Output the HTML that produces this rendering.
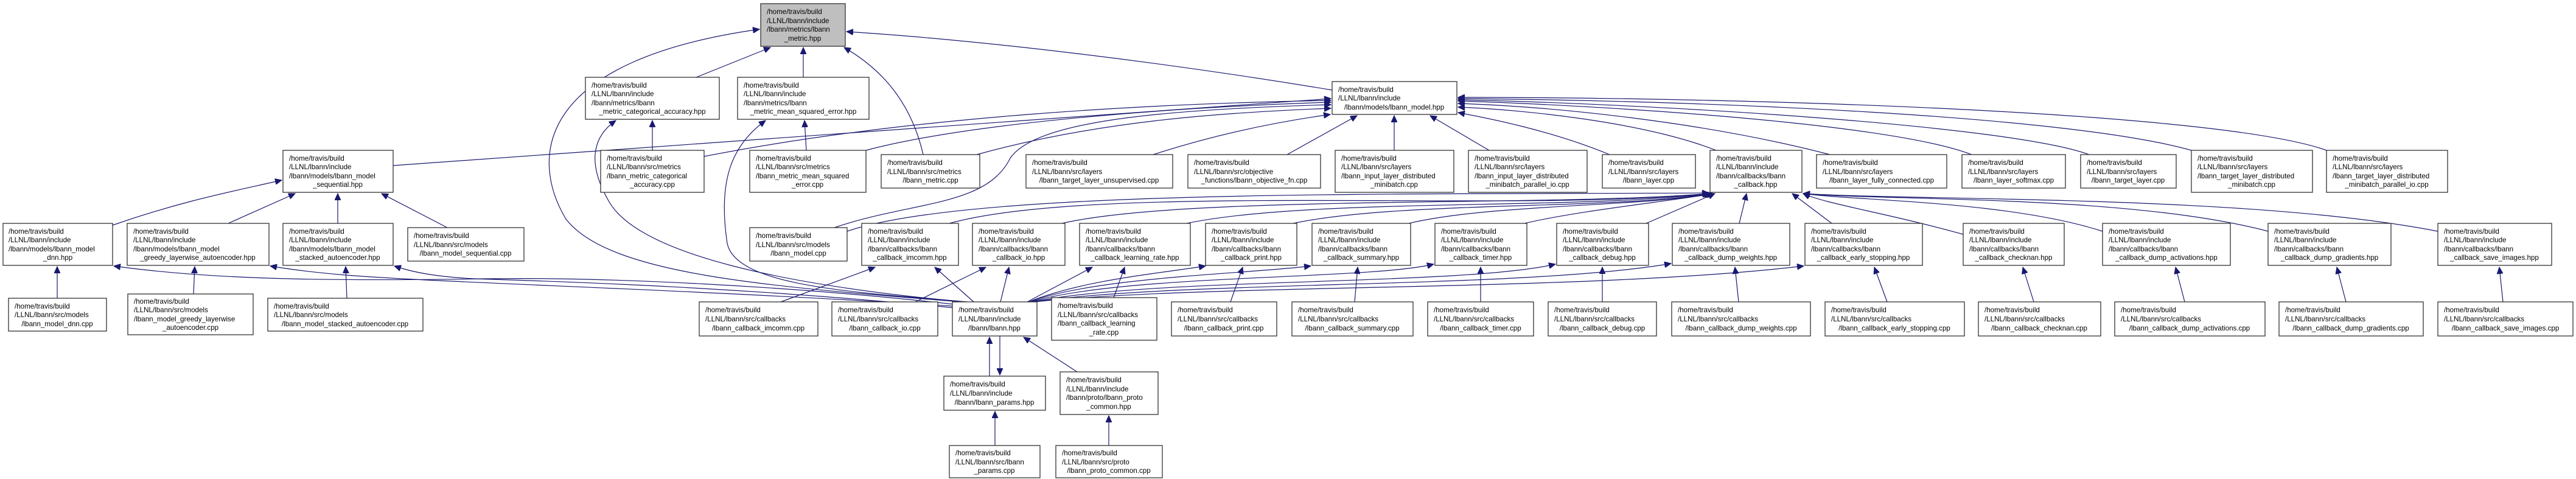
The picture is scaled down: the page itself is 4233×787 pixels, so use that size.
<!DOCTYPE html>
<html><head><meta charset="utf-8"><style>
html,body{margin:0;padding:0;background:#fff;}
svg{display:block;}
text{font-family:"Liberation Sans",sans-serif;font-size:11.6px;fill:#000;}
.c{text-anchor:middle;}
rect{fill:#fff;stroke:#333;stroke-width:1.3;}
path{fill:none;stroke:#191970;stroke-width:1.2;marker-end:url(#a);}
</style></head><body>
<svg width="4233" height="787" viewBox="0 0 4233 787" xmlns="http://www.w3.org/2000/svg">
<defs><marker id="a" markerUnits="userSpaceOnUse" markerWidth="12" markerHeight="10" refX="11" refY="5" orient="auto"><path d="M0,0 L11,5 L0,10 Z" style="fill:#191970;stroke:#191970;stroke-width:1;marker-end:none"/></marker></defs>

<!-- edges -->
<path d="M1144,127 L1266,78"/>
<path d="M1320,127 L1320,78"/>
<path d="M1517,254 C1500,180 1460,120 1387,78"/>
<path d="M2189,148 C1900,100 1600,65 1391,52"/>
<path d="M1580,496 C1250,470 1000,450 930,360 C870,260 880,100 1248,48"/>
<path d="M1585,496 C1300,470 1050,420 1000,330 C960,260 980,220 1012,198"/>
<path d="M1590,496 C1400,480 1210,470 1195,400 C1180,300 1200,240 1258,198"/>
<path d="M1072,247 L1072,198"/>
<path d="M1325,247 L1322,198"/>
<path d="M646,272 L2187,162"/>
<path d="M1157,257 C1500,190 1900,170 2187,165"/>
<path d="M1423,247 C1600,200 1950,175 2187,168"/>
<path d="M1371,374 C1500,330 1620,340 1660,260 C1700,200 1900,180 2187,172"/>
<path d="M1392,380 C1600,310 2300,320 2808,317"/>
<path d="M1605,254 C1800,200 2000,185 2187,178"/>
<path d="M1895,254 C2000,220 2100,200 2186,188"/>
<path d="M2115,254 L2230,190"/>
<path d="M2291,247 L2291,190"/>
<path d="M2447,247 L2350,190"/>
<path d="M2645,254 C2550,215 2450,195 2396,185"/>
<path d="M2820,247 C2700,200 2500,180 2396,176"/>
<path d="M3007,254 C2800,200 2550,175 2396,170"/>
<path d="M3240,254 C3100,200 2600,172 2396,166"/>
<path d="M3433,254 C3300,205 2700,170 2396,164"/>
<path d="M3601,247 C3400,190 2800,165 2396,162"/>
<path d="M3823,247 C3650,185 2900,160 2396,160"/>
<path d="M185,370 C300,330 380,315 463,296"/>
<path d="M375,367 L485,318"/>
<path d="M555,367 L555,318"/>
<path d="M735,374 L627,318"/>
<path d="M94,490 L94,438"/>
<path d="M318,483 L320,438"/>
<path d="M570,490 L568,438"/>
<path d="M1568,500 C1300,470 1000,455 800,458 C550,462 350,460 187,437"/>
<path d="M1568,503 C1200,480 900,470 700,460 C600,455 520,450 444,437"/>
<path d="M1570,506 C1200,470 900,462 780,458 C720,455 680,448 648,437"/>
<path d="M1283,496 L1438,439"/>
<path d="M1600,496 L1536,439"/>
<path d="M1504,496 L1620,439"/>
<path d="M1644,496 L1658,439"/>
<path d="M1688,496 L1795,439"/>
<path d="M1830,489 L1848,439"/>
<path d="M1690,496 C1780,460 1900,450 1981,437"/>
<path d="M2022,496 L2042,439"/>
<path d="M1692,496 C1800,455 2050,450 2154,437"/>
<path d="M2226,496 L2231,439"/>
<path d="M1694,496 C1850,450 2250,460 2356,434"/>
<path d="M2433,496 L2433,439"/>
<path d="M1696,496 C1900,455 2400,470 2556,434"/>
<path d="M2633,496 L2633,439"/>
<path d="M1698,496 C1950,460 2500,475 2746,433"/>
<path d="M2857,496 L2851,439"/>
<path d="M1700,496 C2000,465 2600,480 2964,437"/>
<path d="M3101,496 L3080,439"/>
<path d="M3342,496 L3324,439"/>
<path d="M3590,496 L3575,439"/>
<path d="M3855,496 L3840,439"/>
<path d="M4113,496 L4107,439"/>
<path d="M1560,367 C1800,300 2500,350 2808,318"/>
<path d="M1745,367 C1950,320 2550,340 2808,318"/>
<path d="M1950,367 C2150,325 2600,345 2810,318"/>
<path d="M2125,367 C2300,330 2650,345 2812,318"/>
<path d="M2315,367 C2450,335 2700,340 2814,318"/>
<path d="M2505,367 C2600,345 2750,330 2816,318"/>
<path d="M2705,367 L2818,318"/>
<path d="M2858,367 L2870,318"/>
<path d="M3010,367 L2945,318"/>
<path d="M3226,385 C3100,350 3000,335 2963,318"/>
<path d="M3455,380 C3300,330 3050,330 2963,318"/>
<path d="M3727,380 C3500,320 3100,330 2963,318"/>
<path d="M4006,380 C3700,320 3150,330 2963,318"/>
<path d="M1626,618 L1626,554"/>
<path d="M1643,552 L1643,616"/>
<path d="M1770,611 L1682,554"/>
<path d="M1635,732 L1635,676"/>
<path d="M1822,732 L1822,683"/>

<!-- nodes -->
<g><rect x="1250" y="6" width="139" height="70" style="fill:#bfbfbf"/><text x="1260" y="23">/home/travis/build</text><text x="1260" y="38">/LLNL/lbann/include</text><text x="1260" y="52">/lbann/metrics/lbann</text><text class="c" x="1319" y="67">_metric.hpp</text></g>

<g><rect x="962" y="127" width="220" height="69"/><text x="972" y="144">/home/travis/build</text><text x="972" y="158">/LLNL/lbann/include</text><text x="972" y="173">/lbann/metrics/lbann</text><text class="c" x="1072" y="187">_metric_categorical_accuracy.hpp</text></g>
<g><rect x="1212" y="127" width="216" height="69"/><text x="1222" y="144">/home/travis/build</text><text x="1222" y="158">/LLNL/lbann/include</text><text x="1222" y="173">/lbann/metrics/lbann</text><text class="c" x="1320" y="187">_metric_mean_squared_error.hpp</text></g>
<g><rect x="2189" y="134" width="205" height="54"/><text x="2199" y="151">/home/travis/build</text><text x="2199" y="165">/LLNL/lbann/include</text><text class="c" x="2291" y="180">/lbann/models/lbann_model.hpp</text></g>

<g><rect x="465" y="247" width="181" height="69"/><text x="475" y="264">/home/travis/build</text><text x="475" y="278">/LLNL/lbann/include</text><text x="475" y="293">/lbann/models/lbann_model</text><text class="c" x="555" y="307">_sequential.hpp</text></g>
<g><rect x="987" y="247" width="170" height="69"/><text x="997" y="264">/home/travis/build</text><text x="997" y="278">/LLNL/lbann/src/metrics</text><text x="997" y="293">/lbann_metric_categorical</text><text class="c" x="1072" y="307">_accuracy.cpp</text></g>
<g><rect x="1232" y="247" width="191" height="69"/><text x="1242" y="264">/home/travis/build</text><text x="1242" y="278">/LLNL/lbann/src/metrics</text><text x="1242" y="293">/lbann_metric_mean_squared</text><text class="c" x="1327" y="307">_error.cpp</text></g>
<g><rect x="1448" y="254" width="162" height="55"/><text x="1458" y="271">/home/travis/build</text><text x="1458" y="286">/LLNL/lbann/src/metrics</text><text class="c" x="1529" y="300">/lbann_metric.cpp</text></g>
<g><rect x="1686" y="254" width="241" height="55"/><text x="1696" y="271">/home/travis/build</text><text x="1696" y="286">/LLNL/lbann/src/layers</text><text class="c" x="1806" y="300">/lbann_target_layer_unsupervised.cpp</text></g>
<g><rect x="1952" y="254" width="218" height="55"/><text x="1962" y="271">/home/travis/build</text><text x="1962" y="286">/LLNL/lbann/src/objective</text><text class="c" x="2061" y="300">_functions/lbann_objective_fn.cpp</text></g>
<g><rect x="2194" y="247" width="195" height="69"/><text x="2204" y="264">/home/travis/build</text><text x="2204" y="278">/LLNL/lbann/src/layers</text><text x="2204" y="293">/lbann_input_layer_distributed</text><text class="c" x="2291" y="307">_minibatch.cpp</text></g>
<g><rect x="2413" y="247" width="195" height="69"/><text x="2423" y="264">/home/travis/build</text><text x="2423" y="278">/LLNL/lbann/src/layers</text><text x="2423" y="293">/lbann_input_layer_distributed</text><text class="c" x="2510" y="307">_minibatch_parallel_io.cpp</text></g>
<g><rect x="2633" y="254" width="153" height="55"/><text x="2643" y="271">/home/travis/build</text><text x="2643" y="286">/LLNL/lbann/src/layers</text><text class="c" x="2709" y="300">/lbann_layer.cpp</text></g>
<g><rect x="2810" y="247" width="151" height="69"/><text x="2820" y="264">/home/travis/build</text><text x="2820" y="278">/LLNL/lbann/include</text><text x="2820" y="293">/lbann/callbacks/lbann</text><text class="c" x="2885" y="307">_callback.hpp</text></g>
<g><rect x="2985" y="254" width="214" height="55"/><text x="2995" y="271">/home/travis/build</text><text x="2995" y="286">/LLNL/lbann/src/layers</text><text class="c" x="3092" y="300">/lbann_layer_fully_connected.cpp</text></g>
<g><rect x="3224" y="254" width="170" height="55"/><text x="3234" y="271">/home/travis/build</text><text x="3234" y="286">/LLNL/lbann/src/layers</text><text class="c" x="3309" y="300">/lbann_layer_softmax.cpp</text></g>
<g><rect x="3419" y="254" width="157" height="55"/><text x="3429" y="271">/home/travis/build</text><text x="3429" y="286">/LLNL/lbann/src/layers</text><text class="c" x="3497" y="300">/lbann_target_layer.cpp</text></g>
<g><rect x="3601" y="247" width="199" height="69"/><text x="3611" y="264">/home/travis/build</text><text x="3611" y="278">/LLNL/lbann/src/layers</text><text x="3611" y="293">/lbann_target_layer_distributed</text><text class="c" x="3700" y="307">_minibatch.cpp</text></g>
<g><rect x="3823" y="247" width="199" height="69"/><text x="3833" y="264">/home/travis/build</text><text x="3833" y="278">/LLNL/lbann/src/layers</text><text x="3833" y="293">/lbann_target_layer_distributed</text><text class="c" x="3922" y="307">_minibatch_parallel_io.cpp</text></g>

<g><rect x="5" y="367" width="180" height="69"/><text x="14" y="384">/home/travis/build</text><text x="14" y="398">/LLNL/lbann/include</text><text x="14" y="413">/lbann/models/lbann_model</text><text class="c" x="95" y="427">_dnn.hpp</text></g>
<g><rect x="209" y="367" width="233" height="69"/><text x="219" y="384">/home/travis/build</text><text x="219" y="398">/LLNL/lbann/include</text><text x="219" y="413">/lbann/models/lbann_model</text><text class="c" x="325" y="427">_greedy_layerwise_autoencoder.hpp</text></g>
<g><rect x="465" y="367" width="181" height="69"/><text x="475" y="384">/home/travis/build</text><text x="475" y="398">/LLNL/lbann/include</text><text x="475" y="413">/lbann/models/lbann_model</text><text class="c" x="555" y="427">_stacked_autoencoder.hpp</text></g>
<g><rect x="670" y="374" width="191" height="55"/><text x="680" y="391">/home/travis/build</text><text x="680" y="406">/LLNL/lbann/src/models</text><text class="c" x="765" y="420">/lbann_model_sequential.cpp</text></g>
<g><rect x="1232" y="374" width="160" height="55"/><text x="1242" y="391">/home/travis/build</text><text x="1242" y="406">/LLNL/lbann/src/models</text><text class="c" x="1312" y="420">/lbann_model.cpp</text></g>
<g><rect x="1416" y="367" width="159" height="69"/><text x="1426" y="384">/home/travis/build</text><text x="1426" y="398">/LLNL/lbann/include</text><text x="1426" y="413">/lbann/callbacks/lbann</text><text class="c" x="1495" y="427">_callback_imcomm.hpp</text></g>
<g><rect x="1598" y="367" width="152" height="69"/><text x="1608" y="384">/home/travis/build</text><text x="1608" y="398">/LLNL/lbann/include</text><text x="1608" y="413">/lbann/callbacks/lbann</text><text class="c" x="1674" y="427">_callback_io.hpp</text></g>
<g><rect x="1774" y="367" width="182" height="69"/><text x="1784" y="384">/home/travis/build</text><text x="1784" y="398">/LLNL/lbann/include</text><text x="1784" y="413">/lbann/callbacks/lbann</text><text class="c" x="1865" y="427">_callback_learning_rate.hpp</text></g>
<g><rect x="1981" y="367" width="150" height="69"/><text x="1991" y="384">/home/travis/build</text><text x="1991" y="398">/LLNL/lbann/include</text><text x="1991" y="413">/lbann/callbacks/lbann</text><text class="c" x="2056" y="427">_callback_print.hpp</text></g>
<g><rect x="2156" y="367" width="162" height="69"/><text x="2166" y="384">/home/travis/build</text><text x="2166" y="398">/LLNL/lbann/include</text><text x="2166" y="413">/lbann/callbacks/lbann</text><text class="c" x="2237" y="427">_callback_summary.hpp</text></g>
<g><rect x="2358" y="367" width="151" height="69"/><text x="2368" y="384">/home/travis/build</text><text x="2368" y="398">/LLNL/lbann/include</text><text x="2368" y="413">/lbann/callbacks/lbann</text><text class="c" x="2433" y="427">_callback_timer.hpp</text></g>
<g><rect x="2558" y="367" width="151" height="69"/><text x="2568" y="384">/home/travis/build</text><text x="2568" y="398">/LLNL/lbann/include</text><text x="2568" y="413">/lbann/callbacks/lbann</text><text class="c" x="2633" y="427">_callback_debug.hpp</text></g>
<g><rect x="2748" y="367" width="193" height="69"/><text x="2758" y="384">/home/travis/build</text><text x="2758" y="398">/LLNL/lbann/include</text><text x="2758" y="413">/lbann/callbacks/lbann</text><text class="c" x="2844" y="427">_callback_dump_weights.hpp</text></g>
<g><rect x="2966" y="367" width="193" height="69"/><text x="2976" y="384">/home/travis/build</text><text x="2976" y="398">/LLNL/lbann/include</text><text x="2976" y="413">/lbann/callbacks/lbann</text><text class="c" x="3062" y="427">_callback_early_stopping.hpp</text></g>
<g><rect x="3226" y="367" width="166" height="69"/><text x="3236" y="384">/home/travis/build</text><text x="3236" y="398">/LLNL/lbann/include</text><text x="3236" y="413">/lbann/callbacks/lbann</text><text class="c" x="3309" y="427">_callback_checknan.hpp</text></g>
<g><rect x="3455" y="367" width="210" height="69"/><text x="3465" y="384">/home/travis/build</text><text x="3465" y="398">/LLNL/lbann/include</text><text x="3465" y="413">/lbann/callbacks/lbann</text><text class="c" x="3560" y="427">_callback_dump_activations.hpp</text></g>
<g><rect x="3727" y="367" width="202" height="69"/><text x="3737" y="384">/home/travis/build</text><text x="3737" y="398">/LLNL/lbann/include</text><text x="3737" y="413">/lbann/callbacks/lbann</text><text class="c" x="3828" y="427">_callback_dump_gradients.hpp</text></g>
<g><rect x="4006" y="367" width="187" height="69"/><text x="4016" y="384">/home/travis/build</text><text x="4016" y="398">/LLNL/lbann/include</text><text x="4016" y="413">/lbann/callbacks/lbann</text><text class="c" x="4099" y="427">_callback_save_images.hpp</text></g>

<g><rect x="14" y="490" width="161" height="54"/><text x="24" y="507">/home/travis/build</text><text x="24" y="521">/LLNL/lbann/src/models</text><text class="c" x="94" y="536">/lbann_model_dnn.cpp</text></g>
<g><rect x="210" y="483" width="206" height="67"/><text x="220" y="499">/home/travis/build</text><text x="220" y="513">/LLNL/lbann/src/models</text><text x="220" y="528">/lbann_model_greedy_layerwise</text><text class="c" x="313" y="542">_autoencoder.cpp</text></g>
<g><rect x="440" y="490" width="255" height="54"/><text x="450" y="507">/home/travis/build</text><text x="450" y="521">/LLNL/lbann/src/models</text><text class="c" x="567" y="536">/lbann_model_stacked_autoencoder.cpp</text></g>
<g><rect x="1149" y="496" width="195" height="56"/><text x="1159" y="513">/home/travis/build</text><text x="1159" y="528">/LLNL/lbann/src/callbacks</text><text class="c" x="1246" y="543">/lbann_callback_imcomm.cpp</text></g>
<g><rect x="1367" y="496" width="174" height="56"/><text x="1377" y="513">/home/travis/build</text><text x="1377" y="528">/LLNL/lbann/src/callbacks</text><text class="c" x="1454" y="543">/lbann_callback_io.cpp</text></g>
<g><rect x="1565" y="496" width="139" height="56"/><text x="1575" y="513">/home/travis/build</text><text x="1575" y="528">/LLNL/lbann/include</text><text class="c" x="1634" y="543">/lbann/lbann.hpp</text></g>
<g><rect x="1728" y="489" width="173" height="70"/><text x="1738" y="506">/home/travis/build</text><text x="1738" y="521">/LLNL/lbann/src/callbacks</text><text x="1738" y="535">/lbann_callback_learning</text><text class="c" x="1814" y="550">_rate.cpp</text></g>
<g><rect x="1925" y="496" width="173" height="56"/><text x="1935" y="513">/home/travis/build</text><text x="1935" y="528">/LLNL/lbann/src/callbacks</text><text class="c" x="2011" y="543">/lbann_callback_print.cpp</text></g>
<g><rect x="2123" y="496" width="199" height="56"/><text x="2133" y="513">/home/travis/build</text><text x="2133" y="528">/LLNL/lbann/src/callbacks</text><text class="c" x="2222" y="543">/lbann_callback_summary.cpp</text></g>
<g><rect x="2346" y="496" width="174" height="56"/><text x="2356" y="513">/home/travis/build</text><text x="2356" y="528">/LLNL/lbann/src/callbacks</text><text class="c" x="2433" y="543">/lbann_callback_timer.cpp</text></g>
<g><rect x="2544" y="496" width="178" height="56"/><text x="2554" y="513">/home/travis/build</text><text x="2554" y="528">/LLNL/lbann/src/callbacks</text><text class="c" x="2633" y="543">/lbann_callback_debug.cpp</text></g>
<g><rect x="2747" y="496" width="228" height="56"/><text x="2757" y="513">/home/travis/build</text><text x="2757" y="528">/LLNL/lbann/src/callbacks</text><text class="c" x="2861" y="543">/lbann_callback_dump_weights.cpp</text></g>
<g><rect x="2999" y="496" width="229" height="56"/><text x="3009" y="513">/home/travis/build</text><text x="3009" y="528">/LLNL/lbann/src/callbacks</text><text class="c" x="3113" y="543">/lbann_callback_early_stopping.cpp</text></g>
<g><rect x="3251" y="496" width="201" height="56"/><text x="3261" y="513">/home/travis/build</text><text x="3261" y="528">/LLNL/lbann/src/callbacks</text><text class="c" x="3351" y="543">/lbann_callback_checknan.cpp</text></g>
<g><rect x="3475" y="496" width="247" height="56"/><text x="3485" y="513">/home/travis/build</text><text x="3485" y="528">/LLNL/lbann/src/callbacks</text><text class="c" x="3598" y="543">/lbann_callback_dump_activations.cpp</text></g>
<g><rect x="3745" y="496" width="237" height="56"/><text x="3755" y="513">/home/travis/build</text><text x="3755" y="528">/LLNL/lbann/src/callbacks</text><text class="c" x="3863" y="543">/lbann_callback_dump_gradients.cpp</text></g>
<g><rect x="4006" y="496" width="222" height="56"/><text x="4016" y="513">/home/travis/build</text><text x="4016" y="528">/LLNL/lbann/src/callbacks</text><text class="c" x="4117" y="543">/lbann_callback_save_images.cpp</text></g>

<g><rect x="1551" y="618" width="167" height="56"/><text x="1561" y="635">/home/travis/build</text><text x="1561" y="650">/LLNL/lbann/include</text><text class="c" x="1634" y="665">/lbann/lbann_params.hpp</text></g>
<g><rect x="1742" y="611" width="161" height="70"/><text x="1752" y="628">/home/travis/build</text><text x="1752" y="643">/LLNL/lbann/include</text><text x="1752" y="657">/lbann/proto/lbann_proto</text><text class="c" x="1822" y="672">_common.hpp</text></g>
<g><rect x="1560" y="732" width="149" height="53"/><text x="1570" y="748">/home/travis/build</text><text x="1570" y="763">/LLNL/lbann/src/lbann</text><text class="c" x="1634" y="777">_params.cpp</text></g>
<g><rect x="1735" y="732" width="175" height="53"/><text x="1745" y="748">/home/travis/build</text><text x="1745" y="763">/LLNL/lbann/src/proto</text><text class="c" x="1822" y="777">/lbann_proto_common.cpp</text></g>
</svg>
</body></html>
